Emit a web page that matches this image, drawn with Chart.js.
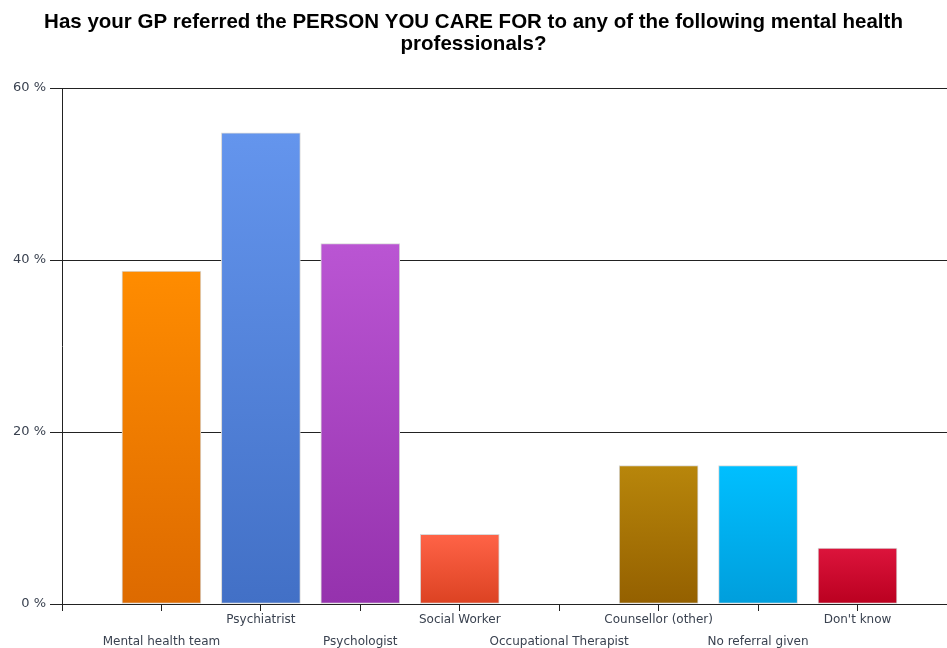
<!DOCTYPE html>
<html>
<head>
<meta charset="utf-8">
<title>GP referrals to mental health professionals</title>
<script src="https://cdn.jsdelivr.net/npm/chart.js@4/dist/chart.umd.min.js"></script>
<style>
  html, body { margin: 0; padding: 0; background: #fff; }
  #wrap { width: 947px; height: 648px; position: relative; }
</style>
</head>
<body>
<div id="wrap"><canvas id="chart"></canvas></div>
<script>
// Survey answers (percentage of carers)
const categories = [
  'Mental health team', 'Psychiatrist', 'Psychologist', 'Social Worker',
  'Occupational Therapist', 'Counsellor (other)', 'No referral given', "Don't know"
];
const percentages = [38.7, 54.8, 41.9, 8.1, 0, 16.1, 16.1, 6.5];
const yTicks = [0, 20, 40, 60];
const titleLines = [
  'Has your GP referred the PERSON YOU CARE FOR to any of the following mental health',
  'professionals?'
];

// top / bottom colour of each bar's vertical gradient
const topColors = ['#ff8c00', '#6495ed', '#ba55d3', '#ff6347', '#b8860b', '#b8860b', '#00bfff', '#dc143c'];
const bottomColors = ['#dd6a00', '#4270c6', '#9532ad', '#dc4222', '#946000', '#946000', '#009edc', '#ba0020'];

const points = categories.map((c, i) => ({ x: i + 1, y: percentages[i] }));

function barGradient(ctx) {
  const chart = ctx.chart;
  const i = ctx.dataIndex;
  const ys = chart.scales.y;
  if (!ys || i === undefined) return topColors[0];
  const top = ys.getPixelForValue(percentages[i]);
  const base = ys.getPixelForValue(0);
  if (!isFinite(top) || !isFinite(base) || base - top < 1) return topColors[i];
  const g = chart.ctx.createLinearGradient(0, top, 0, base);
  g.addColorStop(0, topColors[i]);
  g.addColorStop(1, bottomColors[i]);
  return g;
}

const textColor = '#3a4250';
const lineColor = '#222222';

new Chart(document.getElementById('chart'), {
  type: 'bar',
  data: {
    datasets: [{
      data: points,
      backgroundColor: barGradient,
      borderColor: '#d9d9d9',
      borderWidth: 1,
      borderSkipped: false,
      barThickness: 79
    }]
  },
  options: {
    responsive: true,
    maintainAspectRatio: false,
    animation: false,
    devicePixelRatio: 1,
    layout: { padding: { left: 0, right: 0, top: 0, bottom: 0 } },
    plugins: {
      legend: { display: false },
      tooltip: { enabled: false },
      title: {
        display: true,
        text: titleLines,
        color: '#000',
        font: { family: '"Liberation Sans", Arial, sans-serif', size: 20.5, weight: 'bold', lineHeight: '22px' },
        padding: { top: 11, bottom: 33 }
      }
    },
    scales: {
      x: {
        type: 'linear',
        min: 0,
        max: 8.9,
        offset: false,
        afterFit: (s) => { s.height = 44; },
        grid: {
          offset: false,
          drawOnChartArea: false,
          drawTicks: true,
          tickLength: 7,
          color: lineColor
        },
        border: { display: true, color: lineColor, width: 1 },
        ticks: {
          stepSize: 1,
          includeBounds: false,
          autoSkip: false,
          maxRotation: 0,
          minRotation: 0,
          padding: -2,
          color: textColor,
          font: { family: '"DejaVu Sans", Verdana, sans-serif', size: 12, lineHeight: '22px' },
          callback: (v) => {
            const idx = Math.round(v) - 1;
            if (idx < 0 || idx >= categories.length || Math.abs(v - Math.round(v)) > 1e-6) return '';
            // labels alternate between two rows
            return idx % 2 === 0 ? ['', categories[idx]] : categories[idx];
          }
        }
      },
      y: {
        min: 0,
        max: 60,
        afterFit: (s) => { s.width = 62; },
        afterBuildTicks: (s) => { s.ticks = yTicks.map(v => ({ value: v })); },
        grid: {
          drawOnChartArea: true,
          drawTicks: true,
          tickLength: 12,
          color: lineColor,
          lineWidth: 1
        },
        border: { display: true, color: lineColor, width: 1 },
        ticks: {
          padding: 4,
          color: textColor,
          font: { family: '"DejaVu Sans", Verdana, sans-serif', size: 13 },
          callback: (v) => v + ' %'
        }
      }
    }
  }
});
</script>
</body>
</html>
